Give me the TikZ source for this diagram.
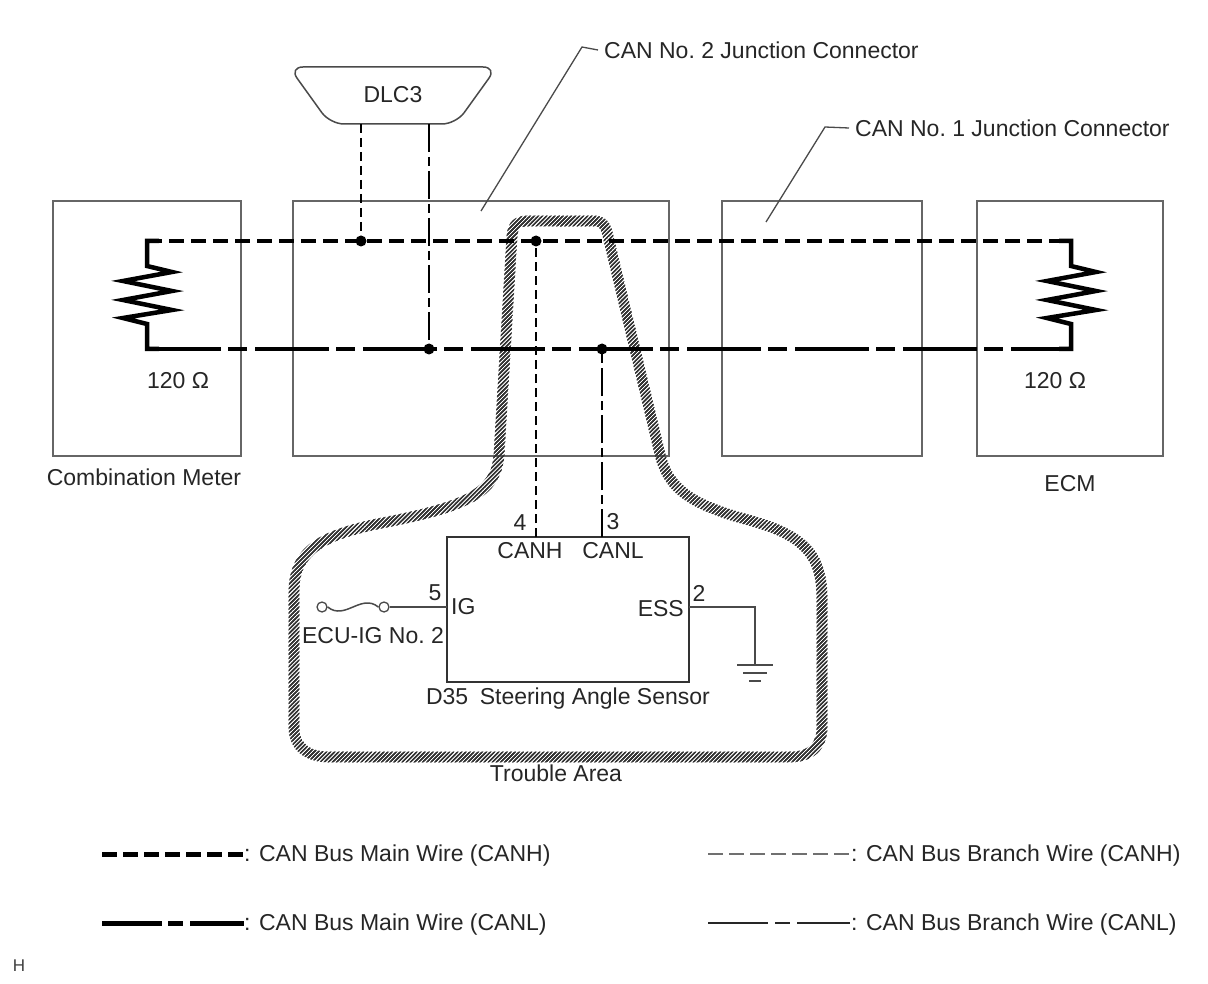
\documentclass[tikz,border=0pt]{standalone}
\usepackage{fontspec}
\setmainfont{Liberation Sans}
\usetikzlibrary{decorations.markings,patterns.meta}
\definecolor{boxgray}{HTML}{666666}
\definecolor{wiregray}{HTML}{4A4A4A}
\definecolor{hatchc}{HTML}{333333}
\definecolor{legray}{HTML}{707070}
\begin{document}
\begin{tikzpicture}[x=1pt,y=-1pt,
  box/.style={draw=boxgray, line width=1.5pt},
  mainH/.style={line width=4.5pt, dash pattern=on 15pt off 7pt},
  mainL/.style={line width=4.5pt, dash pattern=on 74pt off 7pt on 19pt off 8pt},
  branchH/.style={line width=1.8pt, dash pattern=on 9pt off 5pt},
  branchL/.style={line width=1.8pt, dash pattern=on 28pt off 5pt on 9pt off 5pt},
  thinwire/.style={draw=wiregray, line width=1.5pt},
  leader/.style={draw=wiregray, line width=1.3pt},
  lbl/.style={font=\fontsize{23}{27}\selectfont, inner sep=0pt, text=black!85},
  jdot/.style={circle, fill=black, inner sep=0pt, minimum size=11pt},
  resist/.style={line width=4.5pt, line join=miter},
  hatchband/.style={decorate, decoration={markings,
     mark=between positions 0 and 1 step 1.6pt with {\pgftransformresetnontranslations
       \fill[pattern={Lines[angle=45,distance=2.9pt,line width=1.1pt]}, pattern color=hatchc] (0,0) circle (5.6pt);}}}
]
\useasboundingbox (0,0) rectangle (1208,984);

% boxes
\node[box, minimum width=188pt, minimum height=255pt] (cm) at (147,328.5) {};
\node[box, minimum width=376pt, minimum height=255pt] (jc2box) at (481,328.5) {};
\node[box, minimum width=200pt, minimum height=255pt] (jc1box) at (822,328.5) {};
\node[box, minimum width=186pt, minimum height=255pt] (ecm) at (1070,328.5) {};
\node[box, draw=black!80, minimum width=242pt, minimum height=145pt] (sens) at (568,609.5) {};

% box labels
\node[lbl] (cmlbl) at (144,477) {Combination Meter};
\node[lbl] (ecmlbl) at (1070,484) {ECM};
\node[lbl] (r1lbl) at (178,381) {120 Ω};
\node[lbl] (r2lbl) at (1055,381) {120 Ω};

% junction connector callouts
\node[lbl, anchor=west] (jc2) at (604,50) {CAN No.~2 Junction Connector};
\node[lbl, anchor=west] (jc1) at (855,128) {CAN No.~1 Junction Connector};
\coordinate (jc2a) at (481,211);
\coordinate (jc2b) at (582,47);
\coordinate (jc1a) at (766,222);
\coordinate (jc1b) at (825,127);
\draw[leader] (jc2a) -- (jc2b) -- ([xshift=-6pt]jc2.west);
\draw[leader] (jc1a) -- (jc1b) -- ([xshift=-6pt]jc1.west);

% DLC3
\node[lbl] (dlc) at (393,95) {DLC3};
\draw[box, draw=wiregray, rounded corners=14pt] (289,67) -- (497,67) -- (456,124) -- (330,124) -- cycle;
\coordinate (dlcH) at (361,124);
\coordinate (dlcL) at (429,124);

% trouble area hatched band
\path[hatchband] (560,221) -- (594,221) .. controls (603,221) and (606,226) .. (608,236)
  -- (659,450) .. controls (667,490) and (692,505) .. (752,521)
  .. controls (810,537) and (822,560) .. (822,600) -- (822,727)
  .. controls (822,746) and (811,757) .. (790,757) -- (330,757)
  .. controls (306,757) and (294,746) .. (294,727) -- (294,592)
  .. controls (294,550) and (322,535) .. (382,523)
  .. controls (470,506) and (496,492) .. (499,455) -- (512,236)
  .. controls (513,226) and (516,221) .. (528,221) -- (561,221);
\node[lbl] (ta) at (556,773) {Trouble Area};

% main bus
\coordinate (lH) at (147,241);
\coordinate (rH) at (1071,241);
\coordinate (lL) at (147,349);
\coordinate (rL) at (1071,349);
\draw[mainH] (lH) -- (rH);
\draw[mainL] (lL) -- (rL);

% terminating resistors
\draw[resist] ([xshift=12pt]lH) -- (lH) -- (147,266) -- (172,272) -- (123,281) -- (172,291) -- (123,300) -- (172,310) -- (123,318) -- (147,324) -- (lL) -- ([xshift=12pt]lL);
\draw[resist] ([xshift=-12pt]rH) -- (rH) -- (1071,266) -- (1096,272) -- (1047,281) -- (1096,291) -- (1047,300) -- (1096,310) -- (1047,318) -- (1071,324) -- (rL) -- ([xshift=-12pt]rL);

% junction dots
\node[jdot] (jd1) at (361,241) {};
\node[jdot] (jd2) at (536,241) {};
\node[jdot] (jd3) at (429,349) {};
\node[jdot] (jd4) at (602,349) {};

% branches
\coordinate (pin4) at (536,537);
\coordinate (pin3) at (602,537);
\draw[branchH] (dlcH) -- (jd1.center);
\draw[branchL] (dlcL) -- (jd3.center);
\draw[branchH] (pin4) -- (jd2.center);
\draw[branchL] (pin3) -- (jd4.center);

% sensor labels
\node[lbl] (n4) at (520,523) {4};
\node[lbl] (n3) at (613,522) {3};
\node[lbl] (canh) at (530,551) {CANH};
\node[lbl] (canl) at (613,551) {CANL};
\node[lbl] (n5) at (435,593) {5};
\node[lbl, anchor=west] (ig) at (451,607) {IG};
\node[lbl] (n2) at (699,593) {2};
\node[lbl, anchor=east] (ess) at (684,609) {ESS};
\node[lbl] (ecuig) at (373,636) {ECU-IG No.~2};
\node[lbl] (sname) at (568,699) {D35\hspace{0.5em}Steering Angle Sensor};

% IG fuse
\coordinate (igpin) at (447,607);
\node[circle, draw=wiregray, line width=1.3pt, minimum size=10pt, inner sep=0pt] (f1) at (322,607) {};
\node[circle, draw=wiregray, line width=1.3pt, minimum size=10pt, inner sep=0pt] (f2) at (384,607) {};
\draw[thinwire] (f1.east) .. controls (345,621) and (361,593) .. (f2.west);
\draw[thinwire] (f2.east) -- (igpin);

% ESS ground
\coordinate (esspin) at (689,607);
\coordinate (gnd) at (755,665);
\draw[thinwire] (esspin) -- (gnd |- esspin) -- (gnd);
\draw[thinwire] ([xshift=-18pt]gnd) -- ([xshift=18pt]gnd);
\draw[thinwire] ([xshift=-12pt,yshift=-8pt]gnd) -- ([xshift=12pt,yshift=-8pt]gnd);
\draw[thinwire] ([xshift=-6pt,yshift=-16pt]gnd) -- ([xshift=6pt,yshift=-16pt]gnd);

% legend
\coordinate (l1a) at (102,854); \coordinate (l1b) at (244,854);
\coordinate (l2a) at (102,923); \coordinate (l2b) at (244,923);
\coordinate (l3a) at (708,854); \coordinate (l3b) at (850,854);
\coordinate (l4a) at (708,923); \coordinate (l4b) at (850,923);
\draw[line width=5pt, dash pattern=on 15pt off 6pt] (l1a) -- (l1b);
\draw[line width=5pt, dash pattern=on 60pt off 6pt on 15pt off 7pt] (l2a) -- (l2b);
\draw[line width=2.6pt, draw=legray, dash pattern=on 15pt off 6pt] (l3a) -- (l3b);
\draw[line width=2.4pt, draw=black!85, dash pattern=on 60pt off 7pt on 15pt off 7pt] (l4a) -- (l4b);
\node[lbl, anchor=west] (lg1) at (244,856) {: CAN Bus Main Wire (CANH)};
\node[lbl, anchor=west] (lg2) at (244,925) {: CAN Bus Main Wire (CANL)};
\node[lbl, anchor=west] (lg3) at (851,856) {: CAN Bus Branch Wire (CANH)};
\node[lbl, anchor=west] (lg4) at (851,925) {: CAN Bus Branch Wire (CANL)};

\node[font=\fontsize{17}{19}\selectfont, inner sep=0pt, text=black!75] (hmark) at (19,966) {H};
\end{tikzpicture}
\end{document}
